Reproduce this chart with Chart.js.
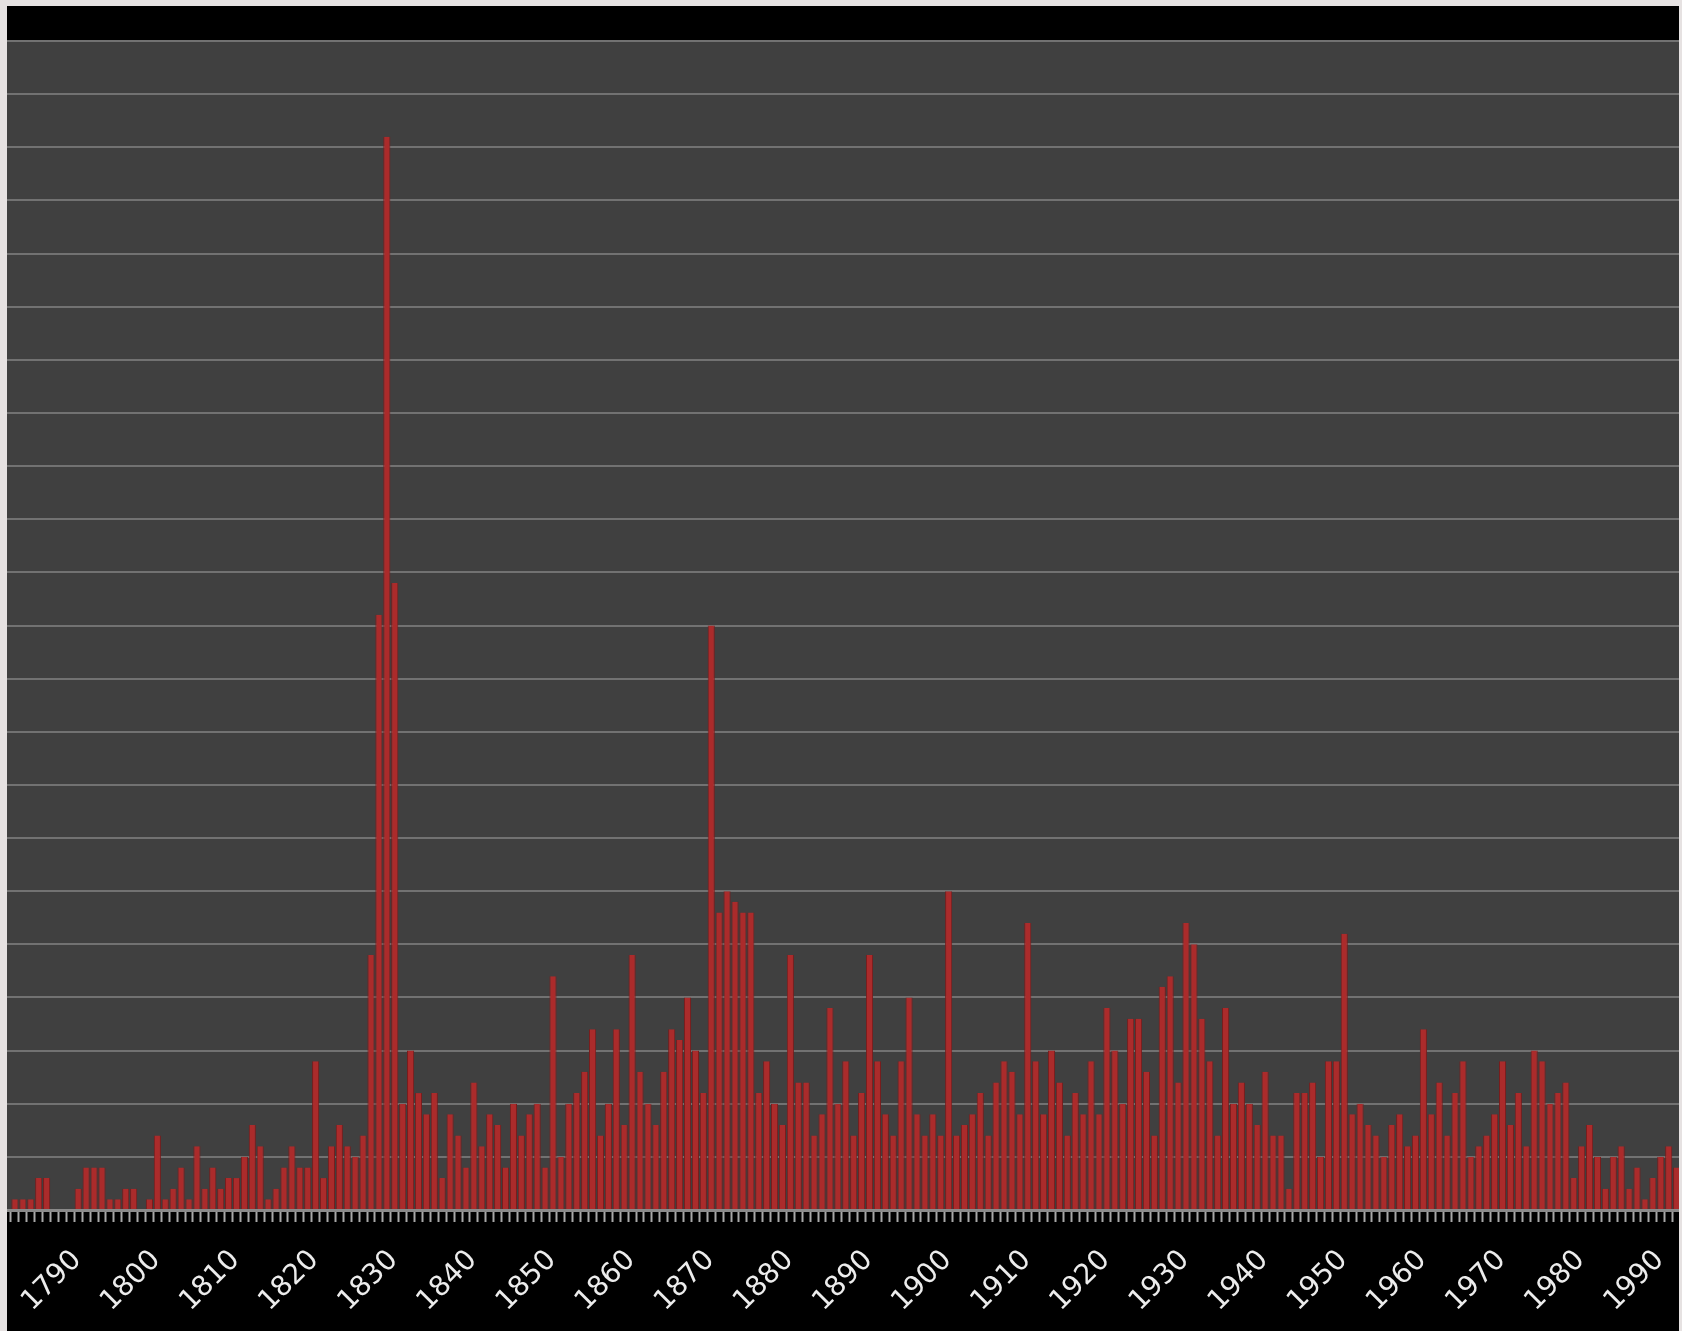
<!DOCTYPE html>
<html>
<head>
<meta charset="utf-8">
<title>Grafico</title>
<script src="https://cdn.jsdelivr.net/npm/chart.js"></script>
<style>
  html, body { margin: 0; padding: 0; background: #e6e2e2; }
  .quadro { position: absolute; left: 7px; top: 6px; width: 1672px; height: 1325px; background: #000; }
</style>
</head>
<body>
<div class="quadro"><canvas id="grafico" width="1672" height="1325"></canvas></div>
<script>
// primeiro ano da serie (uma barra por ano)
const primeiroAno = 1781;

// contagem por ano, 10 anos por linha
const contagens = [
  1, 1, 1, 3, 3, 0, 0, 0, 2, 4,
  4, 4, 1, 1, 2, 2, 0, 1, 7, 1,
  2, 4, 1, 6, 2, 4, 2, 3, 3, 5,
  8, 6, 1, 2, 4, 6, 4, 4, 14, 3,
  6, 8, 6, 5, 7, 24, 56, 101, 59, 10,
  15, 11, 9, 11, 3, 9, 7, 4, 12, 6,
  9, 8, 4, 10, 7, 9, 10, 4, 22, 5,
  10, 11, 13, 17, 7, 10, 17, 8, 24, 13,
  10, 8, 13, 17, 16, 20, 15, 11, 55, 28,
  30, 29, 28, 28, 11, 14, 10, 8, 24, 12,
  12, 7, 9, 19, 10, 14, 7, 11, 24, 14,
  9, 7, 14, 20, 9, 7, 9, 7, 30, 7,
  8, 9, 11, 7, 12, 14, 13, 9, 27, 14,
  9, 15, 12, 7, 11, 9, 14, 9, 19, 15,
  10, 18, 18, 13, 7, 21, 22, 12, 27, 25,
  18, 14, 7, 19, 10, 12, 10, 8, 13, 7,
  7, 2, 11, 11, 12, 5, 14, 14, 26, 9,
  10, 8, 7, 5, 8, 9, 6, 7, 17, 9,
  12, 7, 11, 14, 5, 6, 7, 9, 14, 8,
  11, 6, 15, 14, 10, 11, 12, 3, 6, 8,
  5, 2, 5, 6, 2, 4, 1, 3, 5, 6,
  4
];

const anos = contagens.map((_, i) => primeiroAno + i);

const eixoY = { max: 110, passo: 5 };

// pinta o fundo cinza so na area do grafico
const fundoArea = {
  id: 'fundoArea',
  beforeDraw(chart) {
    const { ctx, chartArea } = chart;
    ctx.save();
    ctx.fillStyle = '#404040';
    ctx.fillRect(chartArea.left, chartArea.top, chartArea.right - chartArea.left, chartArea.bottom - chartArea.top);
    ctx.restore();
  }
};

function gerarGraficoBarras() {
  const ctx = document.getElementById('grafico').getContext('2d');
  new Chart(ctx, {
    type: 'bar',
    data: {
      datasets: [{
        data: anos.map((ano, i) => ({ x: ano, y: contagens[i] })),
        backgroundColor: '#ab2b2b',
        borderColor: '#7a1d1d',
        borderWidth: { left: 1, right: 1, top: 0, bottom: 0 },
        barPercentage: 0.9,
        categoryPercentage: 1,
        clip: 0
      }]
    },
    options: {
      responsive: false,
      animation: false,
      layout: { padding: { top: 35, left: 0, right: 0, bottom: 0 } },
      plugins: {
        legend: { display: false },
        tooltip: { enabled: false }
      },
      scales: {
        x: {
          type: 'linear',
          min: primeiroAno - 0.5,
          max: primeiroAno + 209.8,
          grid: { drawOnChartArea: false, drawTicks: true, tickLength: 12, tickColor: '#a8a8a8', tickWidth: 2 },
          border: { display: true, color: '#8a8a8a', width: 3 },
          ticks: {
            stepSize: 1,
            autoSkip: false,
            includeBounds: false,
            minRotation: 45,
            maxRotation: 45,
            padding: 22,
            labelOffset: -9,
            color: '#ececec',
            font: { family: 'DejaVu Sans', size: 28 },
            callback: v => (v % 10 === 0 ? String(v) : '')
          },
          afterFit: escala => {
            escala.height = 121;
            escala.paddingLeft = 0;
            escala.paddingRight = 0;
          }
        },
        y: {
          min: 0,
          max: eixoY.max,
          ticks: { stepSize: eixoY.passo, display: false },
          grid: { color: '#727272', lineWidth: 2, drawTicks: false },
          border: { display: false }
        }
      }
    },
    plugins: [fundoArea]
  });
}

gerarGraficoBarras();
</script>
</body>
</html>
